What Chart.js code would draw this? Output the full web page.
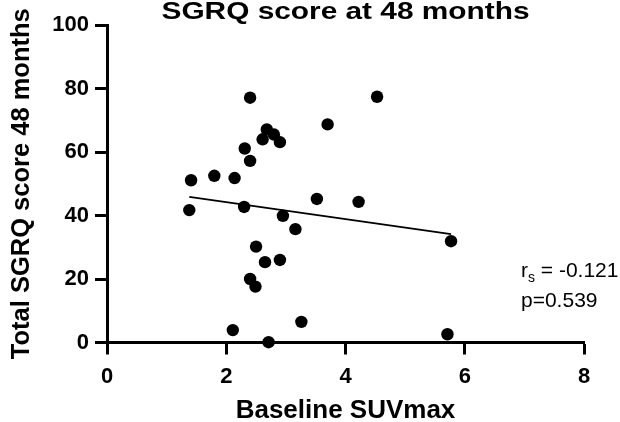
<!DOCTYPE html>
<html>
<head>
<meta charset="utf-8">
<script src="https://cdn.jsdelivr.net/npm/chart.js@4"></script>
<style>
  html, body { margin: 0; padding: 0; background: #fff; }
  #wrap { width: 620px; height: 422px; }
</style>
</head>
<body>
<div id="wrap"><canvas id="sgrqChart" width="620" height="422"></canvas></div>
<script>
// values
const suvmax = [2.40, 4.53, 3.70, 2.68, 2.80, 2.61, 2.90, 2.31, 2.40, 1.80,
                2.14, 1.41, 1.38, 2.30, 3.52, 4.22, 2.95, 3.16, 2.50, 2.65,
                2.90, 2.40, 2.49, 2.11, 3.26, 2.71, 5.77, 5.71];
const sgrq = [77.1, 77.4, 68.7, 67.1, 65.5, 64.0, 63.1, 61.1, 57.2, 52.5,
              51.8, 51.1, 41.7, 42.7, 45.2, 44.3, 39.9, 35.7, 30.2, 25.3,
              26.0, 20.0, 17.6, 3.9, 6.5, 0.1, 31.9, 2.6];
const fitX = [1.38, 5.77];
const fitY = [45.9, 34.1];
const xTickValues = [0, 2, 4, 6, 8];
const yTickValues = [0, 20, 40, 60, 80, 100];

const FONT = '"Liberation Sans", Arial, sans-serif';

const points = suvmax.map((x, i) => ({ x: x, y: sgrq[i] }));
const fitLine = fitX.map((x, i) => ({ x: x, y: fitY[i] }));

// title is a bit wider than the plain font, so it gets stretched to fit
const titlePlugin = {
  id: 'titleAndStats',
  afterDraw(chart) {
    const ctx = chart.ctx;
    const area = chart.chartArea;
    ctx.save();
    ctx.fillStyle = '#000';
    ctx.textBaseline = 'alphabetic';

    ctx.font = 'bold 24.5px ' + FONT;
    const txt = 'SGRQ score at 48 months';
    const w = ctx.measureText(txt).width;
    const sx = 368 / w;
    const cx = (area.left + area.right) / 2;
    ctx.translate(cx, 18.5);
    ctx.scale(sx, 1);
    ctx.textAlign = 'center';
    ctx.fillText(txt, 0, 0);
    ctx.restore();

    ctx.save();
    ctx.fillStyle = '#000';
    ctx.textAlign = 'left';
    ctx.textBaseline = 'alphabetic';
    const lx = area.left + 414;
    ctx.font = '21px ' + FONT;
    ctx.fillText('r', lx, 277);
    const rw = ctx.measureText('r').width;
    ctx.font = '14px ' + FONT;
    ctx.fillText('s', lx + rw, 282);
    const sw = ctx.measureText('s').width;
    ctx.font = '21px ' + FONT;
    ctx.fillText(' = -0.121', lx + rw + sw, 277);
    ctx.fillText('p=0.539', lx, 307);
    ctx.restore();
  }
};

const ctx = document.getElementById('sgrqChart').getContext('2d');
new Chart(ctx, {
  type: 'scatter',
  data: {
    datasets: [{
      label: 'Patients',
      data: points,
      backgroundColor: '#000',
      borderWidth: 0,
      pointRadius: 6.2,
      pointHoverRadius: 6.2,
      clip: false,
      order: 1
    }, {
      type: 'line',
      label: 'Fit',
      data: fitLine,
      borderColor: '#000',
      borderWidth: 1.8,
      pointRadius: 0,
      fill: false,
      order: 2
    }]
  },
  options: {
    responsive: false,
    animation: false,
    events: [],
    layout: { padding: { left: 0, right: 36, top: 25, bottom: 0 } },
    plugins: {
      legend: { display: false },
      tooltip: { enabled: false },
      title: { display: false }
    },
    scales: {
      x: {
        type: 'linear',
        min: 0,
        max: 8,
        afterBuildTicks: (s) => { s.ticks = xTickValues.map(v => ({ value: v })); },
        afterFit: (s) => { s.height = 79.5; },
        border: { color: '#000', width: 3 },
        grid: { drawOnChartArea: false, color: '#000', tickLength: 12, tickWidth: 3 },
        ticks: { color: '#000', padding: 9, font: { family: FONT, size: 22, weight: 'bold' } },
        title: {
          display: true,
          text: 'Baseline SUVmax',
          color: '#000',
          padding: { top: 0, bottom: 0 },
          font: { family: FONT, size: 26, weight: 'bold', lineHeight: 0.85 }
        }
      },
      y: {
        type: 'linear',
        min: 0,
        max: 100,
        afterBuildTicks: (s) => { s.ticks = yTickValues.map(v => ({ value: v })); },
        afterFit: (s) => { s.width = 107; },
        border: { color: '#000', width: 3 },
        grid: { drawOnChartArea: false, color: '#000', tickLength: 12, tickWidth: 3 },
        ticks: { color: '#000', padding: 6, font: { family: FONT, size: 22, weight: 'bold' } },
        title: {
          display: true,
          text: 'Total SGRQ score 48 months',
          color: '#000',
          padding: { top: 7, bottom: 0 },
          font: { family: FONT, size: 25.5, weight: 'bold', lineHeight: 1.2 }
        }
      }
    }
  },
  plugins: [titlePlugin]
});
</script>
</body>
</html>
